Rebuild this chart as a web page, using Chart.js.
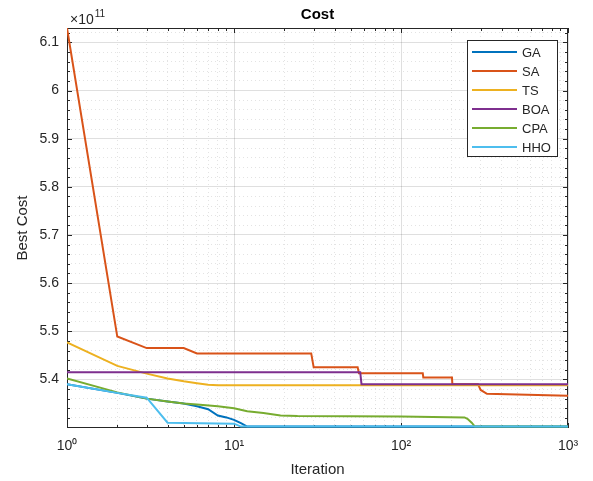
<!DOCTYPE html>
<html lang="en">
<head>
    <meta charset="UTF-8">
    <title>Cost</title>
    <script src="https://cdn.jsdelivr.net/npm/chart.js"></script>
    <style>
        body { margin: 0; background: #fff; }
    </style>
</head>
<body>
    <canvas id="costChart" width="593" height="481"></canvas>
    <script>
        // best cost per iteration (cost in units of 1e11)
        const gaIter = [1, 2, 3, 4, 5, 6, 7, 8, 9, 10, 11, 12, 1000];
        const gaCost = [5.390, 5.372, 5.360, 5.354, 5.350, 5.344, 5.338, 5.325, 5.321, 5.316, 5.309, 5.302, 5.302];

        const saIter = [1, 2, 3, 5, 6, 29, 30, 55, 56, 135, 136, 202, 203, 289, 300, 327, 1000];
        const saCost = [6.130, 5.489, 5.465, 5.465, 5.454, 5.454, 5.425, 5.425, 5.413, 5.413, 5.404, 5.404, 5.390, 5.390, 5.378, 5.370, 5.366];

        const tsIter = [1, 2, 3, 4, 5, 6, 7, 8, 1000];
        const tsCost = [5.477, 5.428, 5.412, 5.402, 5.396, 5.392, 5.389, 5.388, 5.388];

        const boaIter = [1, 57, 58, 1000];
        const boaCost = [5.415, 5.415, 5.390, 5.390];

        const cpaIter = [1, 2, 3, 4, 5, 6, 8, 10, 12, 15, 19, 24, 100, 240, 250, 265, 277, 1000];
        const cpaCost = [5.402, 5.373, 5.360, 5.354, 5.350, 5.348, 5.344, 5.340, 5.334, 5.330, 5.325, 5.324, 5.323, 5.321, 5.318, 5.310, 5.302, 5.302];

        const hhoIter = [1, 2, 3, 4, 10, 11, 1000];
        const hhoCost = [5.390, 5.372, 5.362, 5.310, 5.308, 5.302, 5.302];

        const seriesNames = ['GA', 'SA', 'TS', 'BOA', 'CPA', 'HHO'];
        const seriesColors = ['#0072BD', '#D95319', '#EDB120', '#7E2F8E', '#77AC30', '#4DBEEE'];

        const xTickValues = [1, 10, 100, 1000];
        const xTickLabels = ['10\u2070', '10\u00B9', '10\u00B2', '10\u00B3'];
        const yTickValues = [5.4, 5.5, 5.6, 5.7, 5.8, 5.9, 6.0, 6.1];
        const yTickLabels = ['5.4', '5.5', '5.6', '5.7', '5.8', '5.9', '6', '6.1'];
        const costExponent = '11';
        const chartTitle = 'Cost';

        const FONT = "'Liberation Sans', Arial, sans-serif";
        const INK = '#262626';
        const MAJOR_GRID = 'rgba(38,38,38,0.15)';
        const MINOR_GRID = 'rgba(38,38,38,0.13)';

        const allIter = [gaIter, saIter, tsIter, boaIter, cpaIter, hhoIter];
        const allCost = [gaCost, saCost, tsCost, boaCost, cpaCost, hhoCost];

        // axis tight, like matlab (a hair of room so the bottom line shows)
        const yMin = Math.min(...allCost.flat());
        const yMax = Math.max(...allCost.flat());

        // minor grid positions (log decades, 0.02 steps)
        const xGridValues = [];
        for (let d = 1; d < 1000; d *= 10) {
            for (let m = 1; m < 10; m++) xGridValues.push(m * d);
        }
        xGridValues.push(1000);
        const yGridValues = [];
        for (let k = Math.ceil(yMin / 0.02 - 1e-9); k * 0.02 <= yMax + 1e-9; k++) {
            yGridValues.push(+(k * 0.02).toFixed(2));
        }

        const isXMajor = v => v !== undefined && xTickValues.includes(v);
        const isYMajor = v => v !== undefined && yTickValues.some(t => Math.abs(t - v) < 1e-9);

        function toPoints(xs, ys) {
            return xs.map((x, i) => ({ x: x, y: ys[i] }));
        }

        // box + inward ticks go under the data (matlab Layer 'bottom'),
        // title, x10^11 label and the legend go on top
        const matlabFrame = {
            id: 'matlabFrame',
            beforeDatasetsDraw(chart) {
                const ctx = chart.ctx;
                const a = chart.chartArea;
                const xs = chart.scales.x, ys = chart.scales.y;
                ctx.save();
                ctx.strokeStyle = INK;
                ctx.lineWidth = 1;
                ctx.strokeRect(a.left + 0.5, a.top + 0.5, a.right - a.left - 1, a.bottom - a.top - 1);
                ctx.beginPath();
                xs.ticks.forEach(t => {
                    const px = Math.round(xs.getPixelForValue(t.value)) + 0.5;
                    const len = isXMajor(t.value) ? 5 : 3;
                    ctx.moveTo(px, a.bottom); ctx.lineTo(px, a.bottom - len);
                    ctx.moveTo(px, a.top); ctx.lineTo(px, a.top + len);
                });
                ys.ticks.forEach(t => {
                    const py = Math.round(ys.getPixelForValue(t.value)) + 0.5;
                    const len = isYMajor(t.value) ? 5 : 3;
                    ctx.moveTo(a.left, py); ctx.lineTo(a.left + len, py);
                    ctx.moveTo(a.right, py); ctx.lineTo(a.right - len, py);
                });
                ctx.stroke();
                ctx.restore();
            },
            afterDraw(chart) {
                const ctx = chart.ctx;
                const a = chart.chartArea;
                ctx.save();
                ctx.textBaseline = 'middle';

                // title centred over the axes, not the canvas
                ctx.fillStyle = '#000';
                ctx.textAlign = 'center';
                ctx.font = 'bold 15px ' + FONT;
                ctx.fillText(chartTitle, (a.left + a.right) / 2, a.top - 13);

                ctx.fillStyle = INK;
                ctx.textAlign = 'left';
                ctx.font = '14px ' + FONT;
                ctx.fillText('\u00D710', a.left + 3, a.top - 8);
                const w = ctx.measureText('\u00D710').width;
                ctx.font = '10px ' + FONT;
                ctx.fillText(costExponent, a.left + 3 + w + 1, a.top - 14);

                // legend
                const lw = 91, lh = 117;
                const lx = a.right - 10 - lw, ly = a.top + 12;
                ctx.fillStyle = '#fff';
                ctx.fillRect(lx, ly, lw, lh);
                ctx.strokeStyle = INK;
                ctx.lineWidth = 1;
                ctx.strokeRect(lx + 0.5, ly + 0.5, lw - 1, lh - 1);
                ctx.font = '13px ' + FONT;
                chart.data.datasets.forEach((ds, i) => {
                    const ry = ly + 12 + i * 19;
                    ctx.strokeStyle = ds.borderColor;
                    ctx.lineWidth = 2;
                    ctx.beginPath();
                    ctx.moveTo(lx + 5, ry);
                    ctx.lineTo(lx + 50, ry);
                    ctx.stroke();
                    ctx.fillStyle = INK;
                    ctx.fillText(ds.label, lx + 55, ry + 1);
                });
                ctx.restore();
            }
        };

        const ctx = document.getElementById('costChart').getContext('2d');
        new Chart(ctx, {
            type: 'line',
            data: {
                datasets: seriesNames.map((name, i) => ({
                    label: name,
                    data: toPoints(allIter[i], allCost[i]),
                    borderColor: seriesColors[i],
                    backgroundColor: seriesColors[i],
                    borderWidth: 2,
                    pointRadius: 0,
                    tension: 0,
                    fill: false,
                    order: seriesNames.length - i // later series on top, as in matlab
                }))
            },
            options: {
                responsive: false,
                animation: false,
                layout: { padding: { top: 28, right: 25, bottom: 0, left: 0 } },
                plugins: {
                    legend: { display: false },
                    tooltip: { enabled: false },
                    title: { display: false }
                },
                scales: {
                    x: {
                        type: 'logarithmic',
                        min: 1,
                        max: 1000,
                        afterBuildTicks: s => { s.ticks = xGridValues.map(v => ({ value: v })); },
                        afterFit: s => { s.height = 53; },
                        ticks: {
                            autoSkip: false,
                            maxRotation: 0,
                            padding: 10,
                            color: INK,
                            font: { family: FONT, size: 14 },
                            callback: v => {
                                const k = xTickValues.indexOf(v);
                                return k >= 0 ? xTickLabels[k] : '';
                            }
                        },
                        grid: {
                            drawTicks: false,
                            color: c => isXMajor(c.tick && c.tick.value) ? MAJOR_GRID : MINOR_GRID
                        },
                        border: {
                            display: false,
                            dash: c => (c.tick && !isXMajor(c.tick.value)) ? [1, 3] : []
                        },
                        title: {
                            display: true,
                            text: 'Iteration',
                            color: INK,
                            font: { family: FONT, size: 15 },
                            padding: { top: 0, bottom: 2 }
                        }
                    },
                    y: {
                        min: yMin - 0.003,
                        max: yMax,
                        afterBuildTicks: s => { s.ticks = yGridValues.map(v => ({ value: v })); },
                        afterFit: s => { s.width = 67; },
                        ticks: {
                            autoSkip: false,
                            padding: 8,
                            color: INK,
                            font: { family: FONT, size: 14 },
                            callback: v => {
                                const k = yTickValues.findIndex(t => Math.abs(t - v) < 1e-9);
                                return k >= 0 ? yTickLabels[k] : '';
                            }
                        },
                        grid: {
                            drawTicks: false,
                            color: c => isYMajor(c.tick && c.tick.value) ? MAJOR_GRID : MINOR_GRID
                        },
                        border: {
                            display: false,
                            dash: c => (c.tick && !isYMajor(c.tick.value)) ? [1, 3] : []
                        },
                        title: {
                            display: true,
                            text: 'Best Cost',
                            color: INK,
                            font: { family: FONT, size: 15 },
                            padding: { top: 14, bottom: 0 }
                        }
                    }
                }
            },
            plugins: [matlabFrame]
        });
    </script>
</body>
</html>
